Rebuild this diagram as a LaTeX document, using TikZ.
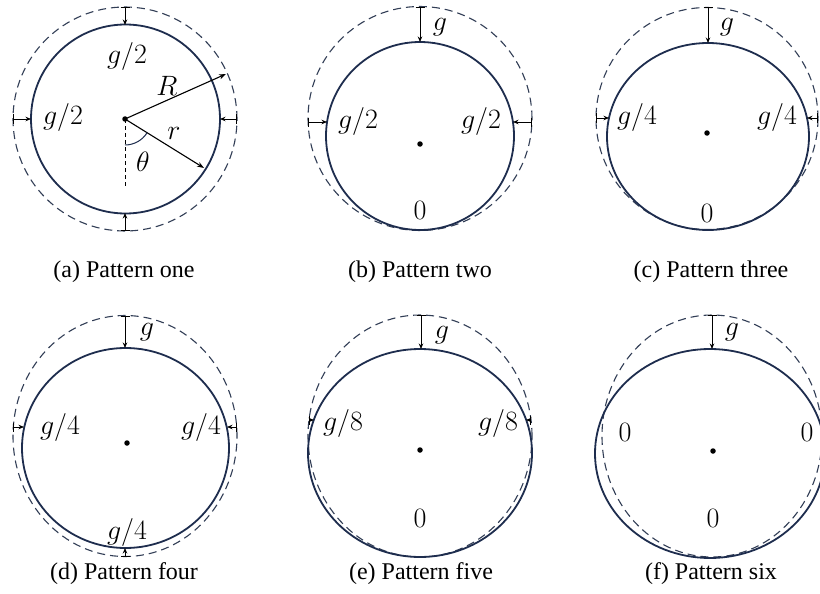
\documentclass[tikz,border=0pt]{standalone}
\usepackage{fontspec}
\setmainfont{Liberation Serif}
\usetikzlibrary{arrows.meta}
\definecolor{navy}{RGB}{30,45,78}
\definecolor{dashgray}{RGB}{50,62,86}
\begin{document}
\begin{tikzpicture}[x=1pt,y=-1pt,
  solidc/.style={draw=navy, line width=1.8pt},
  dashc/.style={draw=dashgray, line width=1.1pt, dash pattern=on 8pt off 5pt},
  gaparrow/.style={{Bar[width=9pt,line width=0.9pt]}-{Stealth[length=5.5pt,width=4.5pt]}, line width=0.9pt, black},
  radarrow/.style={-{Stealth[length=7pt,width=5pt]}, line width=1.1pt, black},
  lab/.style={font=\fontsize{20}{24}\selectfont, inner sep=0pt, scale=1.35},
  captxt/.style={font=\fontsize{24}{28}\selectfont, inner sep=0pt, anchor=base},
  ctr/.style={circle, fill=black, inner sep=0pt, minimum size=5.5pt}
]
\path[use as bounding box] (0,0) rectangle (820,594);
\clip (0,0) rectangle (820,594);
\fill[white] (0,0) rectangle (820,594);

% ---------------- (a)
\node[ctr] (ac) at (125,119) {};
\draw[dashc] (125,119) ellipse [x radius=112pt, y radius=112pt];
\draw[solidc] (125.5,119) ellipse [x radius=94.5pt, y radius=94.5pt];
\coordinate (at1) at (125,7);   \coordinate (at2) at (125,25);
\coordinate (al1) at (13,119);  \coordinate (al2) at (31,119);
\coordinate (ar1) at (237,119); \coordinate (ar2) at (220,119);
\coordinate (ab1) at (125,231); \coordinate (ab2) at (125,213);
\draw[gaparrow] (at1) -- (at2);
\draw[gaparrow] (al1) -- (al2);
\draw[gaparrow] (ar1) -- (ar2);
\draw[gaparrow] (ab1) -- (ab2);
\coordinate (aR) at (226,74);
\coordinate (ar) at (204,168);
\coordinate (av) at (125,188);
\draw[radarrow] (ac.center) -- (aR);
\draw[radarrow] (ac.center) -- (ar);
\draw[line width=1pt, dash pattern=on 4pt off 3pt] (ac.center) -- (av);
\draw[line width=1pt, navy] (125,145) arc[start angle=270, end angle=328.4, radius=26pt];
\node[lab] (aR-l) at (167,86) {$R$};
\node[lab] (ar-l) at (174,133) {$r$};
\node[lab] (ath) at (143,162) {$\theta$};
\node[lab] (at-l) at (127,57) {$g/2$};
\node[lab] (al-l) at (63,118) {$g/2$};
\node[captxt] (acap) at (124,277) {(a) Pattern one};

% ---------------- (b)
\draw[dashc] (420,118.5) ellipse [x radius=112pt, y radius=112pt];
\draw[solidc] (420,136) ellipse [x radius=94pt, y radius=94pt];
\node[ctr] (bc) at (420,144) {};
\coordinate (bt1) at (420,7);   \coordinate (bt2) at (420,42);
\coordinate (bl1) at (308,122); \coordinate (bl2) at (327,122);
\coordinate (br1) at (532,122); \coordinate (br2) at (513,122);
\draw[gaparrow] (bt1) -- (bt2);
\draw[gaparrow] (bl1) -- (bl2);
\draw[gaparrow] (br1) -- (br2);
\node[lab] (bg) at (440,27) {$g$};
\node[lab] (bl-l) at (358,122) {$g/2$};
\node[lab] (br-l) at (481,122) {$g/2$};
\node[lab] (bz) at (420,210) {$0$};
\node[captxt] (bcap) at (420,277) {(b) Pattern two};

% ---------------- (c)
\draw[dashc] (707,118.5) ellipse [x radius=111pt, y radius=111pt];
\draw[solidc] (708,136.5) ellipse [x radius=101pt, y radius=93.5pt];
\node[ctr] (cc) at (707,133) {};
\coordinate (ct1) at (708,7.5); \coordinate (ct2) at (708,43);
\coordinate (cl1) at (596,118); \coordinate (cl2) at (609,118);
\coordinate (cr1) at (818,118); \coordinate (cr2) at (807,118);
\draw[gaparrow] (ct1) -- (ct2);
\draw[gaparrow] (cl1) -- (cl2);
\draw[gaparrow] (cr1) -- (cr2);
\node[lab] (cg) at (727,27) {$g$};
\node[lab] (cl-l) at (637,118) {$g/4$};
\node[lab] (cr-l) at (777,118) {$g/4$};
\node[lab] (cz) at (707,213) {$0$};
\node[captxt] (ccap) at (711,277) {(c) Pattern three};

% ---------------- (d)
\draw[dashc] (125,436) ellipse [x radius=112pt, y radius=120.5pt];
\draw[solidc] (125.5,448) ellipse [x radius=103.5pt, y radius=100pt];
\node[ctr] (dc) at (127,443) {};
\coordinate (dt1) at (125,315.5); \coordinate (dt2) at (125,348);
\coordinate (dl1) at (13,427);    \coordinate (dl2) at (24,427);
\coordinate (dr1) at (237,427);   \coordinate (dr2) at (227,427);
\coordinate (db1) at (125,556.5); \coordinate (db2) at (125,548);
\draw[gaparrow] (dt1) -- (dt2);
\draw[gaparrow] (dl1) -- (dl2);
\draw[gaparrow] (dr1) -- (dr2);
\draw[gaparrow] (db1) -- (db2);
\node[lab] (dg) at (147,332) {$g$};
\node[lab] (dl-l) at (60,427) {$g/4$};
\node[lab] (dr-l) at (201,427) {$g/4$};
\node[lab] (db-l) at (127,532) {$g/4$};
\node[captxt] (dcap) at (124,579) {(d) Pattern four};

% ---------------- (e)
\draw[dashc] (420,436) ellipse [x radius=112pt, y radius=121pt];
\draw[solidc] (420,453) ellipse [x radius=112pt, y radius=104pt];
\node[ctr] (ec) at (420,450) {};
\coordinate (et1) at (421,315); \coordinate (et2) at (421,349);
\coordinate (el1) at (309,420); \coordinate (el2) at (314,420);
\coordinate (er1) at (531,420); \coordinate (er2) at (526,420);
\draw[gaparrow] (et1) -- (et2);
\draw[gaparrow] (el1) -- (el2);
\draw[gaparrow] (er1) -- (er2);
\node[lab] (eg) at (442,335) {$g$};
\node[lab] (el-l) at (343,423) {$g/8$};
\node[lab] (er-l) at (498,423) {$g/8$};
\node[lab] (ez) at (420,518) {$0$};
\node[captxt] (ecap) at (421,579) {(e) Pattern five};

% ---------------- (f)
\draw[dashc] (712,436) ellipse [x radius=110pt, y radius=121pt];
\draw[solidc] (710,453.5) ellipse [x radius=115pt, y radius=104.5pt];
\node[ctr] (fc) at (713,451) {};
\coordinate (ft1) at (712,315); \coordinate (ft2) at (712,349);
\draw[gaparrow] (ft1) -- (ft2);
\node[lab] (fg) at (732,332) {$g$};
\node[lab] (fl-l) at (625,432) {$0$};
\node[lab] (fr-l) at (807,432) {$0$};
\node[lab] (fz) at (713,518) {$0$};
\node[captxt] (fcap) at (711,579) {(f) Pattern six};
\end{tikzpicture}
\end{document}
